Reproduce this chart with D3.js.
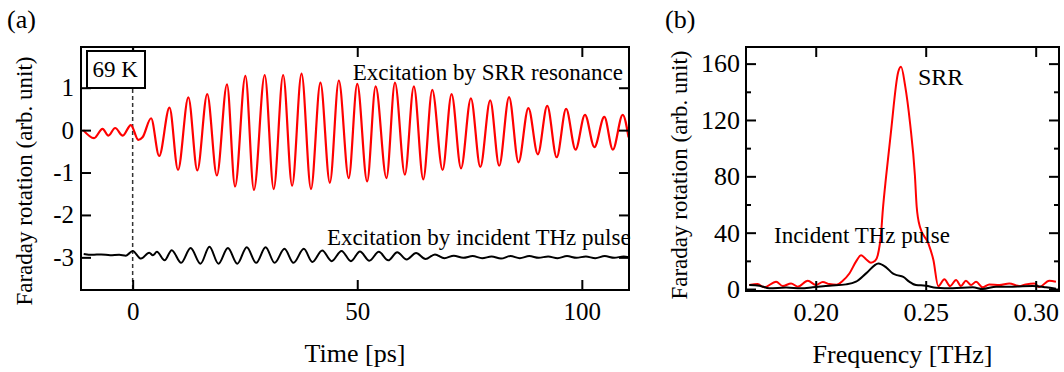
<!DOCTYPE html>
<html>
<head>
<meta charset="utf-8">
<script src="https://cdn.jsdelivr.net/npm/d3@7"></script>
<style>
  html, body { margin: 0; padding: 0; background: #fff; }
  svg text { font-family: "Liberation Serif", "Times New Roman", serif; fill: #000; }
</style>
</head>
<body>
<svg id="fig" width="1064" height="372"></svg>
<script>
// ---- (a) time-domain Faraday rotation, extrema of each trace ----
const srrTime = [-11.0, -8.6, -6.7, -5.4, -3.9, -2.2, -0.4, 1.25, 2.2, 4.1, 5.9, 8.2, 10.1, 12.4, 14.4, 16.6, 18.75, 21.0, 22.8, 25.1, 27.0, 29.4, 31.4, 33.5, 35.5, 37.6, 39.7, 41.8, 43.9, 45.9, 48.1, 50.0, 52.2, 54.1, 56.5, 58.4, 60.6, 62.6, 64.7, 66.7, 69.0, 71.0, 73.1, 75.3, 77.4, 79.6, 81.6, 83.8, 85.9, 88.1, 90.2, 92.3, 94.4, 96.5, 98.6, 100.7, 102.8, 105.0, 106.9, 109.1, 110.4];
const srrRotation = [0.0, -0.19, 0.03, -0.13, 0.05, -0.13, 0.12, -0.23, -0.17, 0.28, -0.61, 0.53, -0.94, 0.77, -0.95, 0.85, -1.07, 1.08, -1.33, 1.28, -1.41, 1.30, -1.39, 1.30, -1.31, 1.33, -1.39, 1.12, -1.24, 1.17, -1.13, 1.09, -1.21, 1.03, -1.13, 1.12, -1.05, 1.03, -1.16, 0.95, -0.94, 0.85, -0.90, 0.75, -0.87, 0.70, -0.84, 0.78, -0.76, 0.52, -0.57, 0.57, -0.64, 0.50, -0.46, 0.36, -0.40, 0.31, -0.46, 0.36, -0.17];

const thzTime = [-10.9, -9.0, -7.0, -5.0, -3.0, -1.5, 0.0, 1.85, 3.7, 4.5, 5.4, 7.1, 8.7, 10.8, 12.9, 15.1, 17.1, 19.1, 21.2, 23.3, 25.4, 27.5, 29.6, 31.6, 33.8, 35.8, 38.1, 40.0, 42.2, 44.3, 46.5, 48.6, 50.6, 52.7, 54.8, 56.9, 58.9, 61.0, 63.1, 65.2, 67.3, 69.4, 71.5, 73.6, 75.7, 77.8, 79.9, 82.0, 84.1, 86.2, 88.3, 90.4, 92.5, 94.6, 96.7, 98.8, 100.9, 103.0, 105.1, 107.2, 109.3, 110.5];
const thzRotation = [-2.92, -2.94, -2.93, -2.95, -2.94, -2.96, -2.85, -3.03, -2.89, -2.95, -2.87, -3.07, -2.83, -3.13, -2.78, -3.15, -2.75, -3.15, -2.78, -3.15, -2.76, -3.13, -2.76, -3.13, -2.80, -3.13, -2.80, -3.11, -2.84, -3.09, -2.85, -3.09, -2.86, -3.08, -2.87, -3.07, -2.88, -3.05, -2.90, -3.04, -2.93, -3.02, -2.96, -3.01, -2.97, -3.02, -2.98, -3.03, -2.97, -3.02, -2.97, -3.01, -2.98, -3.02, -2.97, -3.01, -2.98, -3.02, -2.97, -3.01, -2.98, -3.0];

const timeTicks = [0, 50, 100];
const rotationTicks = [1, 0, -1, -2, -3];

// ---- (b) Fourier spectra ----
const srrFreq = [0.1698, 0.1736, 0.1766, 0.182, 0.185, 0.1888, 0.1918, 0.1964, 0.2001, 0.2032, 0.2062, 0.2095, 0.2123, 0.2153, 0.2185, 0.2206, 0.2230, 0.2251, 0.2270, 0.2282, 0.2297, 0.2305, 0.232, 0.2341, 0.2375, 0.2388, 0.2406, 0.2429, 0.2451, 0.2459, 0.2474, 0.2512, 0.2535, 0.2557, 0.2585, 0.2611, 0.2638, 0.266, 0.2683, 0.2706, 0.2729, 0.2759, 0.2789, 0.2835, 0.288, 0.2925, 0.2955, 0.2994, 0.3016, 0.3062, 0.3092];
const srrSpectrum = [2.8, 3.5, 1.2, 5.2, 2.1, 4.0, 1.7, 5.9, 2.8, 5.0, 3.5, 3.0, 5.9, 11, 20, 24, 21, 18.7, 20, 24, 39.5, 56, 80, 110, 154, 157.7, 144.7, 117.5, 80.4, 58.4, 44, 32.4, 20.6, 2.0, 6.9, 2.1, 6.4, 2.1, 5.9, 2.8, 5.2, 1.2, 3.3, 2.8, 4.0, 2.1, 3.3, 4.0, 1.4, 5.9, 5.2];

const thzFreq = [0.1698, 0.1744, 0.1789, 0.1865, 0.1933, 0.1986, 0.2062, 0.2138, 0.2183, 0.2229, 0.2285, 0.232, 0.235, 0.2368, 0.2398, 0.2425, 0.2456, 0.2501, 0.2547, 0.2622, 0.2714, 0.2759, 0.282, 0.2895, 0.2986, 0.3047, 0.3092];
const thzSpectrum = [2.8, 2.4, 0.5, 1.0, 0.5, 1.2, 2.4, 3.3, 5.2, 11.1, 18.2, 15.4, 11.1, 9.9, 8.7, 5.2, 2.8, 2.4, 0.9, 0.5, 1.2, 0.0, 1.7, 1.7, 2.1, 1.2, 0.2];

const freqTicks = [0.20, 0.25, 0.30];
const spectrumTicks = [0, 40, 80, 120, 160];
const spectrumMinorTicks = [20, 60, 100, 140];

const RED = "#ff0000";
const svg = d3.select("#fig");

function frame(g, x0, y0, x1, y1) {
  g.append("rect")
    .attr("x", x0).attr("y", y0)
    .attr("width", x1 - x0).attr("height", y1 - y0)
    .attr("fill", "none").attr("stroke", "#000").attr("stroke-width", 2);
}

function styleAxis(sel, fontSize) {
  sel.select(".domain").remove();
  sel.selectAll(".tick line").attr("stroke", "#000").attr("stroke-width", 2);
  sel.selectAll(".tick text")
    .attr("fill", "#000")
    .style("font-family", '"Liberation Serif", "Times New Roman", serif')
    .style("font-size", fontSize + "px");
}

function addClip(id, x0, y0, x1, y1) {
  svg.append("defs").append("clipPath").attr("id", id)
    .append("rect").attr("x", x0).attr("y", y0).attr("width", x1 - x0).attr("height", y1 - y0);
}

// ================= panel (a) =================
const A = { l: 81, t: 47, r: 629, b: 290 };
const xA = d3.scaleLinear().domain([-11.5, 110.5]).range([A.l, A.r]);
const yA = d3.scaleLinear().domain([-3.77, 1.96]).range([A.b, A.t]);
const gA = svg.append("g");
addClip("clipA", A.l, A.t, A.r, A.b);

// time-zero marker
gA.append("line")
  .attr("x1", xA(0)).attr("x2", xA(0))
  .attr("y1", A.t).attr("y2", A.b)
  .attr("stroke", "#333").attr("stroke-width", 1.5)
  .attr("stroke-dasharray", "4,3");

const lineA = d3.line().x(d => xA(d[0])).y(d => yA(d[1])).curve(d3.curveMonotoneX);
const plotA = gA.append("g").attr("clip-path", "url(#clipA)");
plotA.append("path")
  .datum(srrTime.map((t, i) => [t, srrRotation[i]]))
  .attr("d", lineA).attr("fill", "none").attr("stroke", RED).attr("stroke-width", 2.2);
plotA.append("path")
  .datum(thzTime.map((t, i) => [t, thzRotation[i]]))
  .attr("d", lineA).attr("fill", "none").attr("stroke", "#000").attr("stroke-width", 2);

gA.append("g").attr("transform", `translate(0,${A.b})`)
  .call(d3.axisBottom(xA).tickValues(timeTicks).tickSize(-10).tickPadding(12).tickSizeOuter(0).tickFormat(d3.format("d")))
  .call(s => styleAxis(s, 25));
gA.append("g").attr("transform", `translate(0,${A.t})`)
  .call(d3.axisTop(xA).tickValues(timeTicks).tickSize(-10).tickSizeOuter(0).tickFormat(""))
  .call(s => styleAxis(s, 25));
gA.append("g").attr("transform", `translate(${A.l},0)`)
  .call(d3.axisLeft(yA).tickValues(rotationTicks).tickSize(-10).tickPadding(7).tickSizeOuter(0).tickFormat(d => d < 0 ? "-" + Math.abs(d) : String(d)))
  .call(s => styleAxis(s, 25));
gA.append("g").attr("transform", `translate(${A.r},0)`)
  .call(d3.axisRight(yA).tickValues(rotationTicks).tickSize(-10).tickSizeOuter(0).tickFormat(""))
  .call(s => styleAxis(s, 25));
frame(gA, A.l, A.t, A.r, A.b);

// temperature box
gA.append("rect").attr("x", 87).attr("y", 51).attr("width", 58).attr("height", 37)
  .attr("fill", "#fff").attr("stroke", "#000").attr("stroke-width", 2);
gA.append("text").attr("x", 92.5).attr("y", 77).style("font-size", "23px").text("69 K");

gA.append("text").attr("x", 623).attr("y", 80).attr("text-anchor", "end")
  .style("font-size", "23px").text("Excitation by SRR resonance");
gA.append("text").attr("x", 327).attr("y", 245)
  .style("font-size", "23px").text("Excitation by incident THz pulse");

gA.append("text").attr("x", (A.l + A.r) / 2).attr("y", 362).attr("text-anchor", "middle")
  .style("font-size", "26px").text("Time [ps]");
gA.append("text").attr("transform", "translate(32,181) rotate(-90)").attr("text-anchor", "middle")
  .style("font-size", "23px").text("Faraday rotation (arb. unit)");
gA.append("text").attr("x", 7).attr("y", 28).style("font-size", "26px").text("(a)");

// ================= panel (b) =================
const B = { l: 746, t: 47, r: 1059, b: 291 };
const xB = d3.scaleLinear().domain([0.1683, 0.3106]).range([B.l, B.r]);
const yB = d3.scaleLinear().domain([-1.4, 171.8]).range([B.b, B.t]);
const gB = svg.append("g");
addClip("clipB", B.l, B.t, B.r, B.b);

const lineB = d3.line().x(d => xB(d[0])).y(d => yB(d[1])).curve(d3.curveMonotoneX);
const plotB = gB.append("g").attr("clip-path", "url(#clipB)");
plotB.append("path")
  .datum(srrFreq.map((f, i) => [f, srrSpectrum[i]]))
  .attr("d", lineB).attr("fill", "none").attr("stroke", RED).attr("stroke-width", 2);
plotB.append("path")
  .datum(thzFreq.map((f, i) => [f, thzSpectrum[i]]))
  .attr("d", lineB).attr("fill", "none").attr("stroke", "#000").attr("stroke-width", 2);

gB.append("g").attr("transform", `translate(0,${B.b})`)
  .call(d3.axisBottom(xB).tickValues(freqTicks).tickSize(-10).tickPadding(12).tickSizeOuter(0).tickFormat(d3.format(".2f")))
  .call(s => styleAxis(s, 26));
gB.append("g").attr("transform", `translate(0,${B.t})`)
  .call(d3.axisTop(xB).tickValues(freqTicks).tickSize(-10).tickSizeOuter(0).tickFormat(""))
  .call(s => styleAxis(s, 26));
gB.append("g").attr("transform", `translate(${B.l},0)`)
  .call(d3.axisLeft(yB).tickValues(spectrumTicks).tickSize(-10).tickPadding(6).tickSizeOuter(0).tickFormat(d3.format("d")))
  .call(s => styleAxis(s, 26));
gB.append("g").attr("transform", `translate(${B.r},0)`)
  .call(d3.axisRight(yB).tickValues(spectrumTicks).tickSize(-10).tickSizeOuter(0).tickFormat(""))
  .call(s => styleAxis(s, 26));
gB.append("g").attr("transform", `translate(${B.l},0)`)
  .call(d3.axisLeft(yB).tickValues(spectrumMinorTicks).tickSize(-5).tickSizeOuter(0).tickFormat(""))
  .call(s => styleAxis(s, 26));
gB.append("g").attr("transform", `translate(${B.r},0)`)
  .call(d3.axisRight(yB).tickValues(spectrumMinorTicks).tickSize(-5).tickSizeOuter(0).tickFormat(""))
  .call(s => styleAxis(s, 26));
frame(gB, B.l, B.t, B.r, B.b);

gB.append("text").attr("x", 918).attr("y", 85).style("font-size", "24px").text("SRR");
gB.append("text").attr("x", 774).attr("y", 243).style("font-size", "23px").text("Incident THz pulse");

gB.append("text").attr("x", (B.l + B.r) / 2).attr("y", 363).attr("text-anchor", "middle")
  .style("font-size", "26px").text("Frequency [THz]");
gB.append("text").attr("transform", "translate(687,175) rotate(-90)").attr("text-anchor", "middle")
  .style("font-size", "23px").text("Faraday rotation (arb. unit)");
gB.append("text").attr("x", 665).attr("y", 28).style("font-size", "26px").text("(b)");
</script>
</body>
</html>
